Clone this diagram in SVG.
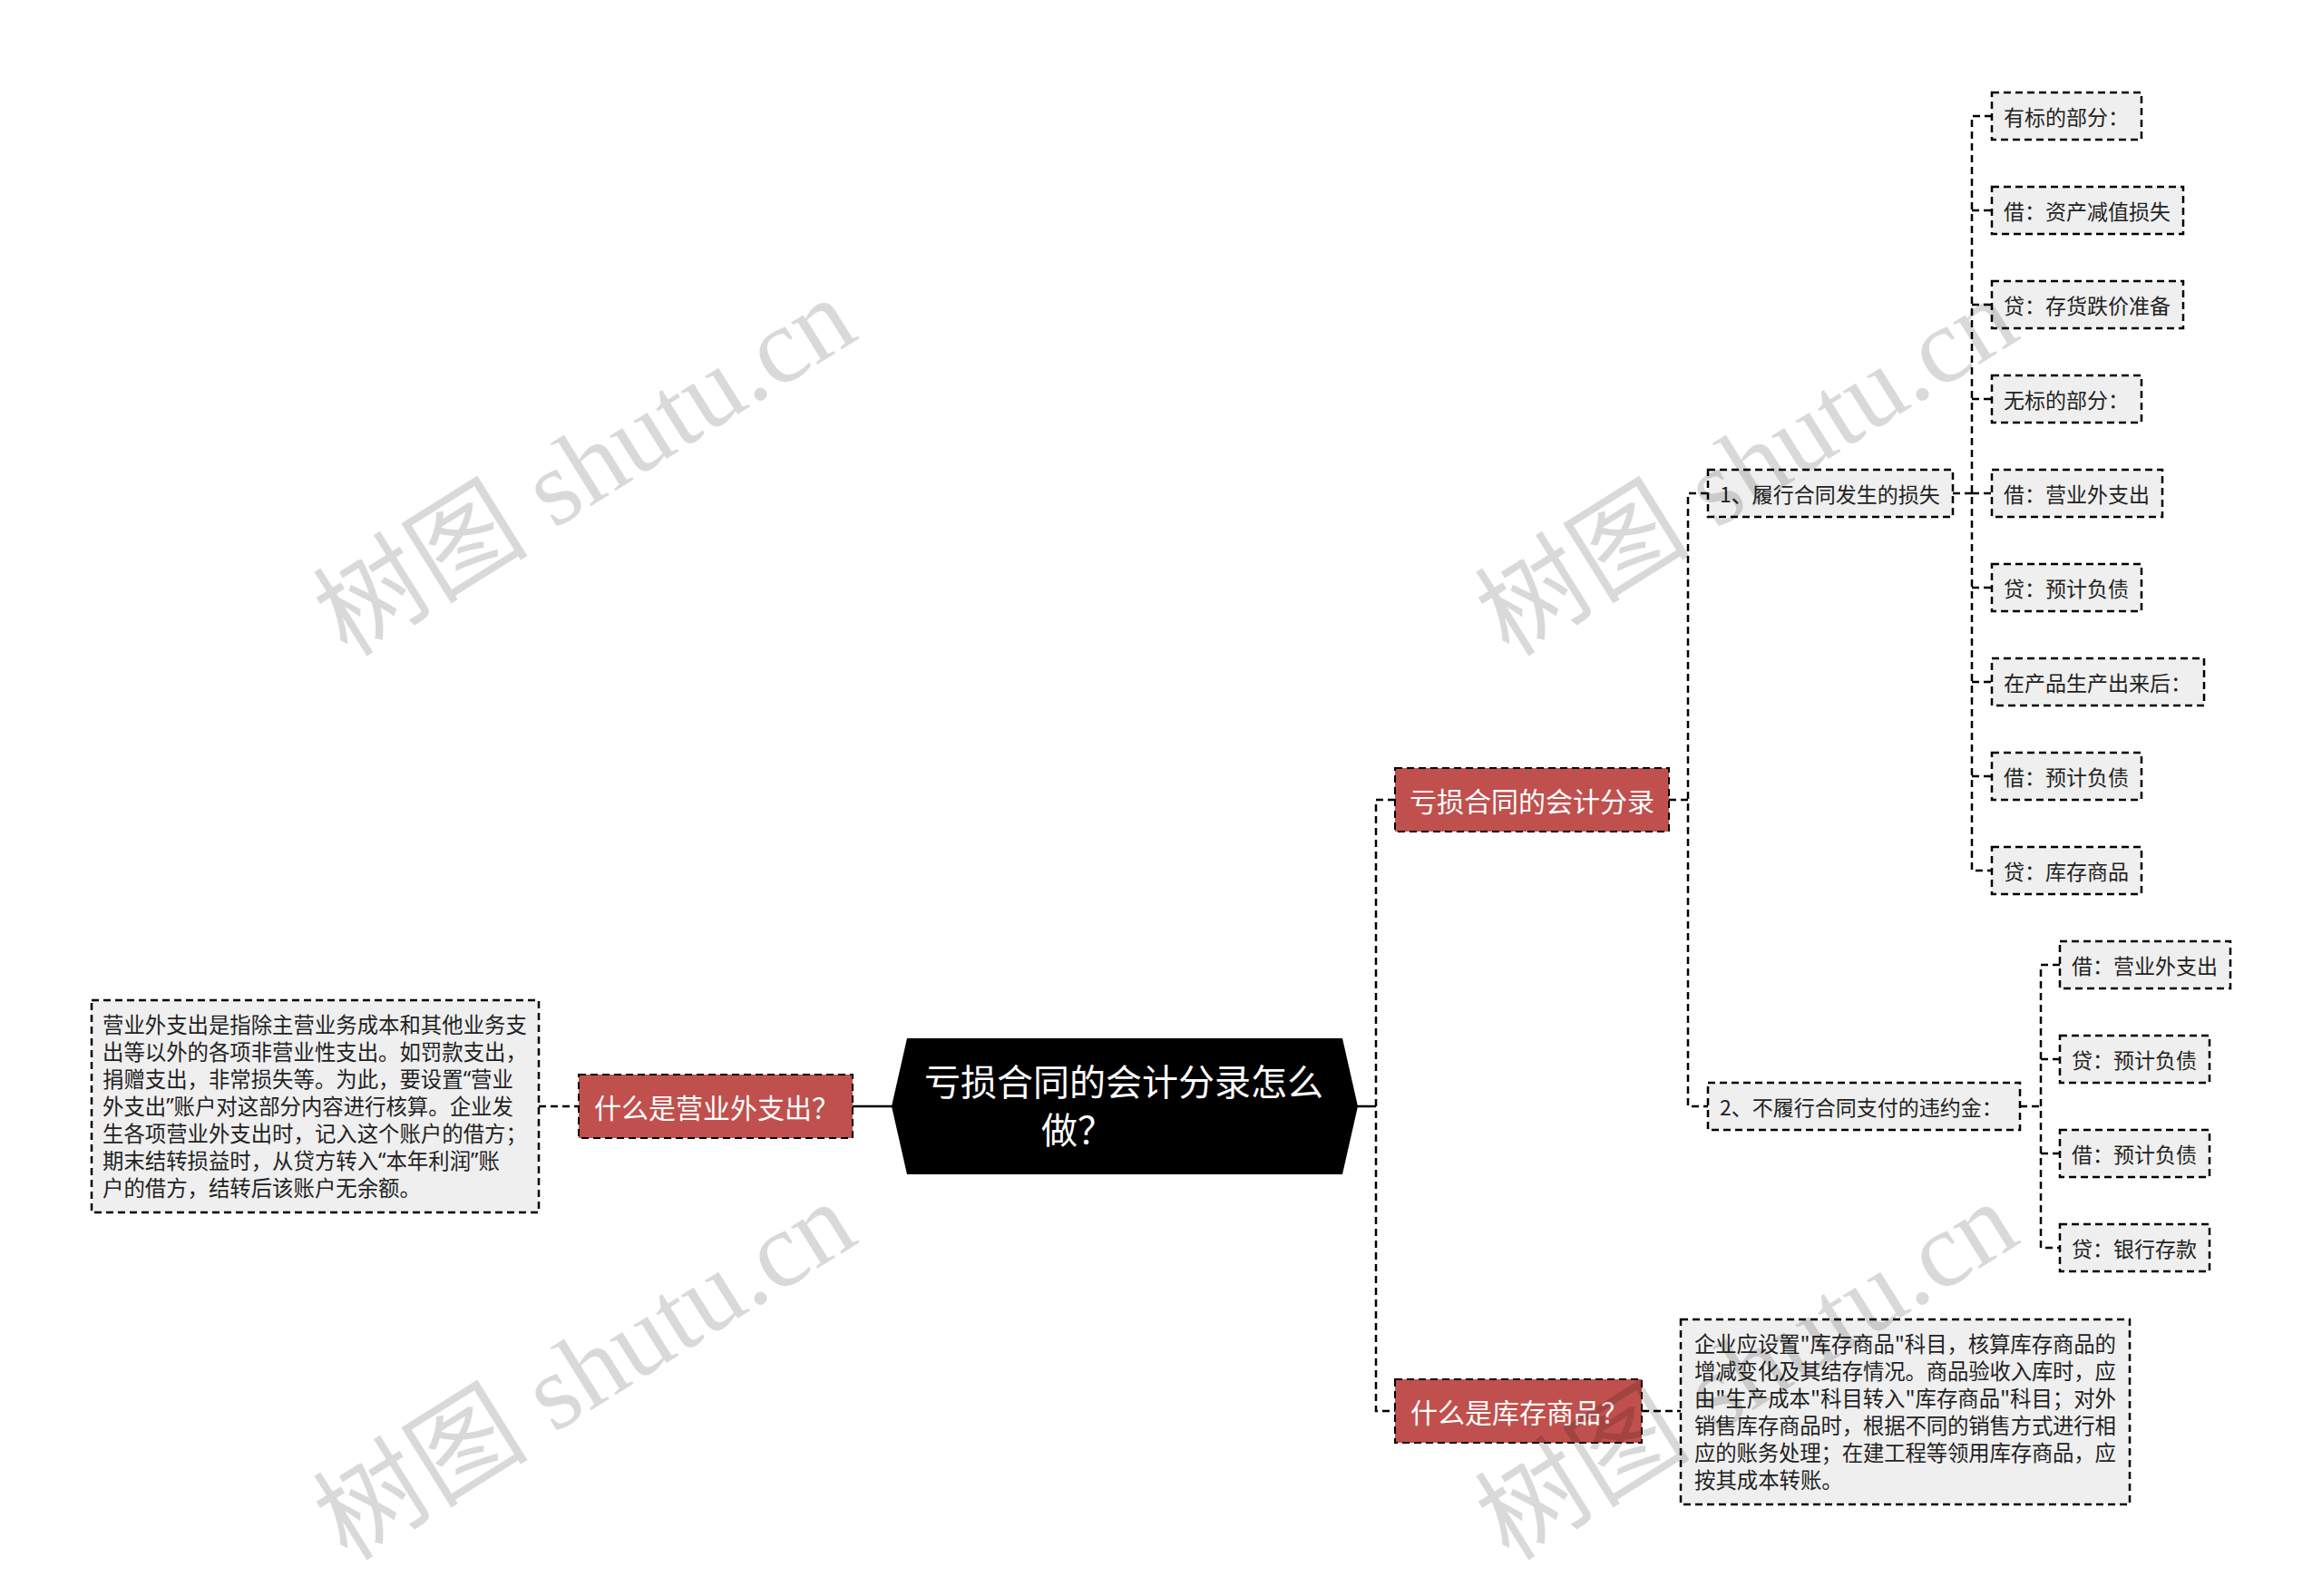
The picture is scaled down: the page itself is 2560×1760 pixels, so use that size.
<svg xmlns="http://www.w3.org/2000/svg" width="2560" height="1760" viewBox="0 0 2560 1760">
<style>
text{font-family:"Noto Sans CJK SC","Noto Sans",sans-serif;}
.c{fill:none;stroke:#000;stroke-width:2.5;stroke-dasharray:8 5;}
.s{fill:none;stroke:#000;stroke-width:2.5;}
.red{fill:#c0504d;stroke:#000;stroke-width:2;stroke-dasharray:8 5;}
.leaf{fill:#efefef;stroke:#000;stroke-width:2.5;stroke-dasharray:8 5;}
.rt{fill:#fff;font-size:30px;}
.lt{fill:#222;font-size:23px;}
.bt{fill:#222;font-size:23.4px;}
.q{font-family:"Noto Sans","Liberation Sans",sans-serif;}
.wm{fill:#000;fill-opacity:0.15;font-size:119px;font-family:"Liberation Serif","Noto Sans CJK SC",serif;}
</style>
<rect width="2560" height="1760" fill="#fff"/>
<g id="connectors">
<line class="s" x1="940" y1="1220" x2="984" y2="1220"/>
<line class="c" x1="594" y1="1220" x2="638" y2="1220"/>
<line class="s" x1="1496" y1="1220" x2="1517" y2="1220"/>
<path class="c" d="M1538 882 H1517 V1556 H1538"/>
<line class="c" x1="1810" y1="1556" x2="1853" y2="1556"/>
<path class="c" d="M1840 882 H1861"/>
<path class="c" d="M1883 544 H1861 V1220 H1883"/>
<path class="c" d="M2153 544 H2174"/>
<path class="c" d="M2196 128 H2174 V960 H2196 M2174 232 H2196 M2174 336 H2196 M2174 440 H2196 M2174 544 H2196 M2174 648 H2196 M2174 752 H2196 M2174 856 H2196"/>
<path class="c" d="M2227 1220 H2250"/>
<path class="c" d="M2271 1064 H2250 V1376 H2271 M2250 1168 H2271 M2250 1272 H2271"/>
</g>
<g id="root">
<polygon points="983,1220 1000,1145 1480,1145 1497,1220 1480,1295 1000,1295" fill="#000"/>
<text x="1239" y="1208" font-size="40" fill="#fff" text-anchor="middle">亏损合同的会计分录怎么</text>
<text x="1148" y="1261" font-size="40" fill="#fff">做？</text>
</g>
<g id="n-yingyewai">
<rect class="red" x="638" y="1185" width="302" height="70"/>
<text class="rt" x="655" y="1220" dominant-baseline="central">什么是营业外支出？</text>
</g>
<g id="n-yingyewai-desc">
<rect class="leaf" x="101" y="1103" width="493" height="234"/>
<text class="bt" x="113" dominant-baseline="central">
<tspan x="113" y="1129">营业外支出是指除主营业务成本和其他业务支</tspan>
<tspan x="113" y="1159">出等以外的各项非营业性支出。如罚款支出，</tspan>
<tspan x="113" y="1189">捐赠支出，非常损失等。为此，要设置<tspan class="q">“</tspan>营业</tspan>
<tspan x="113" y="1219">外支出<tspan class="q">”</tspan>账户对这部分内容进行核算。企业发</tspan>
<tspan x="113" y="1249">生各项营业外支出时，记入这个账户的借方；</tspan>
<tspan x="113" y="1279">期末结转损益时，从贷方转入<tspan class="q">“</tspan>本年利润<tspan class="q">”</tspan>账</tspan>
<tspan x="113" y="1309">户的借方，结转后该账户无余额。</tspan>
</text>
</g>
<g id="n-kuisun">
<rect class="red" x="1538" y="847" width="302" height="70"/>
<text class="rt" x="1689" y="882" text-anchor="middle" dominant-baseline="central">亏损合同的会计分录</text>
</g>
<g id="n-kucun">
<rect class="red" x="1538" y="1521" width="272" height="70"/>
<text class="rt" x="1555" y="1556" dominant-baseline="central">什么是库存商品？</text>
</g>
<g id="n-kucun-desc">
<rect class="leaf" x="1853" y="1455" width="495" height="204"/>
<text class="bt" dominant-baseline="central">
<tspan x="1868" y="1481" textLength="465" lengthAdjust="spacing">企业应设置"库存商品"科目，核算库存商品的</tspan>
<tspan x="1868" y="1511" textLength="465" lengthAdjust="spacing">增减变化及其结存情况。商品验收入库时，应</tspan>
<tspan x="1868" y="1541" textLength="465" lengthAdjust="spacing">由"生产成本"科目转入"库存商品"科目；对外</tspan>
<tspan x="1868" y="1571" textLength="465" lengthAdjust="spacing">销售库存商品时，根据不同的销售方式进行相</tspan>
<tspan x="1868" y="1601" textLength="465" lengthAdjust="spacing">应的账务处理；在建工程等领用库存商品，应</tspan>
<tspan x="1868" y="1631">按其成本转账。</tspan>
</text>
</g>
<g id="n-1">
<rect class="leaf" x="1883" y="518" width="270" height="52"/>
<text class="lt" x="1896" y="544" dominant-baseline="central">1、履行合同发生的损失</text>
</g>
<g id="n-2">
<rect class="leaf" x="1883" y="1194" width="344" height="52"/>
<text class="lt" x="1896" y="1220" dominant-baseline="central">2、不履行合同支付的违约金：</text>
</g>
<g id="l1-1"><rect class="leaf" x="2196" y="102" width="165" height="52"/><text class="lt" x="2209" y="128" dominant-baseline="central">有标的部分：</text></g>
<g id="l1-2"><rect class="leaf" x="2196" y="206" width="211" height="52"/><text class="lt" x="2209" y="232" dominant-baseline="central">借：资产减值损失</text></g>
<g id="l1-3"><rect class="leaf" x="2196" y="310" width="211" height="52"/><text class="lt" x="2209" y="336" dominant-baseline="central">贷：存货跌价准备</text></g>
<g id="l1-4"><rect class="leaf" x="2196" y="414" width="165" height="52"/><text class="lt" x="2209" y="440" dominant-baseline="central">无标的部分：</text></g>
<g id="l1-5"><rect class="leaf" x="2196" y="518" width="188" height="52"/><text class="lt" x="2209" y="544" dominant-baseline="central">借：营业外支出</text></g>
<g id="l1-6"><rect class="leaf" x="2196" y="622" width="165" height="52"/><text class="lt" x="2209" y="648" dominant-baseline="central">贷：预计负债</text></g>
<g id="l1-7"><rect class="leaf" x="2196" y="726" width="234" height="52"/><text class="lt" x="2209" y="752" dominant-baseline="central">在产品生产出来后：</text></g>
<g id="l1-8"><rect class="leaf" x="2196" y="830" width="165" height="52"/><text class="lt" x="2209" y="856" dominant-baseline="central">借：预计负债</text></g>
<g id="l1-9"><rect class="leaf" x="2196" y="934" width="165" height="52"/><text class="lt" x="2209" y="960" dominant-baseline="central">贷：库存商品</text></g>
<g id="l2-1"><rect class="leaf" x="2271" y="1038" width="188" height="52"/><text class="lt" x="2284" y="1064" dominant-baseline="central">借：营业外支出</text></g>
<g id="l2-2"><rect class="leaf" x="2271" y="1142" width="165" height="52"/><text class="lt" x="2284" y="1168" dominant-baseline="central">贷：预计负债</text></g>
<g id="l2-3"><rect class="leaf" x="2271" y="1246" width="165" height="52"/><text class="lt" x="2284" y="1272" dominant-baseline="central">借：预计负债</text></g>
<g id="l2-4"><rect class="leaf" x="2271" y="1350" width="165" height="52"/><text class="lt" x="2284" y="1376" dominant-baseline="central">贷：银行存款</text></g>
<g id="watermarks">
<text class="wm" x="645" y="515" text-anchor="middle" dominant-baseline="central" transform="rotate(-32 645 515)">树图 shutu.cn</text>
<text class="wm" x="645" y="1512" text-anchor="middle" dominant-baseline="central" transform="rotate(-32 645 1512)">树图 shutu.cn</text>
<text class="wm" x="1926" y="515" text-anchor="middle" dominant-baseline="central" transform="rotate(-32 1926 515)">树图 shutu.cn</text>
<text class="wm" x="1926" y="1512" text-anchor="middle" dominant-baseline="central" transform="rotate(-32 1926 1512)">树图 shutu.cn</text>
</g>
</svg>
